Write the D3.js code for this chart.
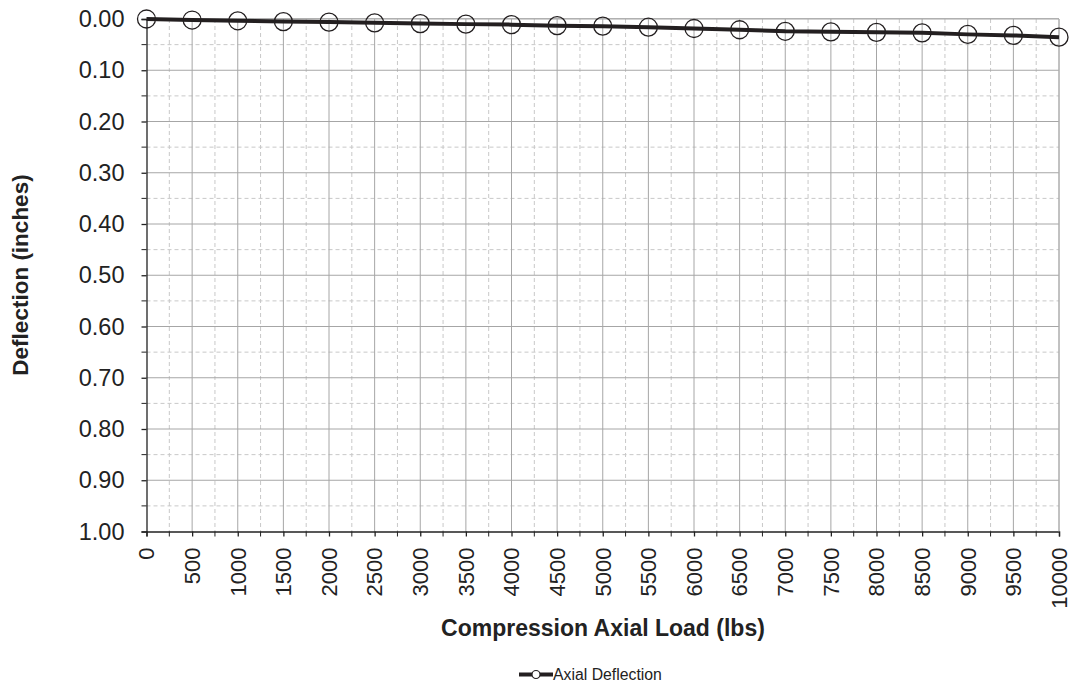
<!DOCTYPE html>
<html><head><meta charset="utf-8">
<script src="https://cdn.jsdelivr.net/npm/d3@7"></script>
<style>body{margin:0;background:#fff;} text{font-family:"Liberation Sans",Arial,sans-serif;}</style>
</head><body>
<svg id="c" width="1071" height="685"></svg>
<script>
const loads = [0,500,1000,1500,2000,2500,3000,3500,4000,4500,5000,5500,6000,6500,7000,7500,8000,8500,9000,9500,10000];
const deflection = [0.000,0.002,0.0035,0.005,0.006,0.0075,0.009,0.010,0.011,0.013,0.014,0.016,0.0185,0.021,0.024,0.025,0.026,0.027,0.030,0.032,0.0355];
const xTicks = d3.range(0, 10001, 500);
const yTicks = d3.range(0, 1.0001, 0.1);
const seriesName = "Axial Deflection";
const xTitle = "Compression Axial Load (lbs)";
const yTitle = "Deflection (inches)";

const svg = d3.select("#c");
const L = 146.5, R = 1059, T = 19, B = 531.5;
const x = d3.scaleLinear().domain([0, 10000]).range([L, R]);
const y = d3.scaleLinear().domain([0, 1]).range([T, B]);

const minorX = d3.range(250, 10000, 500);
const minorY = d3.range(0.05, 1, 0.1);

// minor grid
svg.append("g").selectAll("line").data(minorX).join("line")
  .attr("x1", d => x(d)).attr("x2", d => x(d)).attr("y1", T).attr("y2", B)
  .attr("stroke", "#c8c8c8").attr("stroke-dasharray", "4,3").attr("stroke-width", 1);
svg.append("g").selectAll("line").data(minorY).join("line")
  .attr("y1", d => y(d)).attr("y2", d => y(d)).attr("x1", L).attr("x2", R)
  .attr("stroke", "#c8c8c8").attr("stroke-dasharray", "4,3").attr("stroke-width", 1);
// major grid
svg.append("g").selectAll("line").data(xTicks.slice(1)).join("line")
  .attr("x1", d => x(d)).attr("x2", d => x(d)).attr("y1", T).attr("y2", B)
  .attr("stroke", "#a6a6a6").attr("stroke-width", 1);
svg.append("g").selectAll("line").data(yTicks.slice(0, -1)).join("line")
  .attr("y1", d => y(d)).attr("y2", d => y(d)).attr("x1", L).attr("x2", R)
  .attr("stroke", "#a6a6a6").attr("stroke-width", 1);

// axes
const yAxis = svg.append("g").attr("transform", `translate(${L},0)`)
  .call(d3.axisLeft(y).tickValues(yTicks).tickFormat(d3.format(".2f")).tickSize(5).tickPadding(17));
yAxis.selectAll("text").attr("font-size", 23.5).attr("fill", "#222").style("font-family", "Liberation Sans, Arial, sans-serif");
yAxis.selectAll("line, path").attr("stroke", "#222").attr("stroke-width", 1.3);
svg.append("g").selectAll("line").data(minorY).join("line")
  .attr("x1", L - 5).attr("x2", L).attr("y1", d => y(d)).attr("y2", d => y(d)).attr("stroke", "#222");

const xAxis = svg.append("g").attr("transform", `translate(0,${B})`)
  .call(d3.axisBottom(x).tickValues(xTicks).tickFormat(d3.format("d")).tickSize(5));
xAxis.selectAll("text").attr("font-size", 22).attr("fill", "#222")
  .style("font-family", "Liberation Sans, Arial, sans-serif")
  .attr("transform", "rotate(-90)").attr("text-anchor", "end")
  .attr("x", -16).attr("y", 0).attr("dy", "0.33em");
xAxis.selectAll("line, path").attr("stroke", "#222").attr("stroke-width", 1.3);
svg.append("g").selectAll("line").data(minorX).join("line")
  .attr("x1", d => x(d)).attr("x2", d => x(d)).attr("y1", B).attr("y2", B + 5).attr("stroke", "#222");

// top/right border
svg.append("line").attr("x1", L).attr("x2", R).attr("y1", T - 0.5).attr("y2", T - 0.5).attr("stroke", "#b0b0b0");
svg.append("line").attr("x1", R).attr("x2", R).attr("y1", T).attr("y2", B).attr("stroke", "#b0b0b0");

// series
const data = loads.map((l, i) => ({l, d: deflection[i]}));
svg.append("path").datum(data)
  .attr("d", d3.line().x(d => x(d.l)).y(d => y(d.d)))
  .attr("fill", "none").attr("stroke", "#231f20").attr("stroke-width", 4);
svg.append("g").selectAll("circle").data(data).join("circle")
  .attr("cx", d => x(d.l)).attr("cy", d => y(d.d)).attr("r", 9)
  .attr("fill", "none").attr("stroke", "#231f20").attr("stroke-width", 1.3);

// titles
svg.append("text").attr("x", 603).attr("y", 636).attr("text-anchor", "middle")
  .attr("font-size", 23).attr("font-weight", "bold").attr("fill", "#222").text(xTitle);
svg.append("text").attr("transform", `translate(28,275) rotate(-90)`).attr("text-anchor", "middle")
  .attr("font-size", 22.5).attr("font-weight", "bold").attr("fill", "#222").text(yTitle);

// legend
const lg = svg.append("g");
lg.append("line").attr("x1", 519).attr("x2", 553).attr("y1", 674.5).attr("y2", 674.5).attr("stroke", "#231f20").attr("stroke-width", 4);
lg.append("circle").attr("cx", 536).attr("cy", 674.5).attr("r", 4).attr("fill", "#fff").attr("stroke", "#231f20").attr("stroke-width", 1.2);
lg.append("text").attr("x", 553).attr("y", 680).attr("font-size", 15.8).attr("fill", "#222").text(seriesName);
</script>
</body></html>
